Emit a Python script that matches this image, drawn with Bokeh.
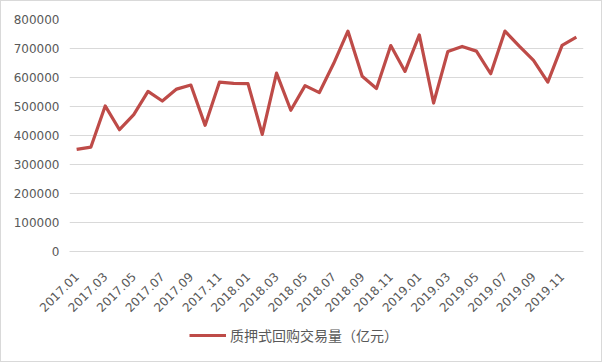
import math
from bokeh.plotting import figure
from bokeh.layouts import column
from bokeh.models import FixedTicker, Range1d, Legend, LegendItem, NumeralTickFormatter, ColumnDataSource
from bokeh.embed import file_html
from bokeh.resources import INLINE

months = [f"{y}.{m:02d}" for y in (2017, 2018, 2019) for m in range(1, 13)]
volume = [352000, 360000, 502000, 420000, 472000, 552000, 519000, 560000, 574000, 435000,
          584000, 580000, 579000, 404000, 615000, 487000, 572000, 548000, 648000, 760000,
          604000, 562000, 710000, 621000, 747000, 512000, 690000, 707000, 691000, 613000,
          760000, 708000, 659000, 584000, 711000, 739000]
y_ticks = [0, 100000, 200000, 300000, 400000, 500000, 600000, 700000, 800000]
series_name = "质押式回购交易量（亿元）"

LINE_COLOR = "#BE4B48"
LINE_WIDTH = 3.2

xs = list(range(len(months)))
src = ColumnDataSource(dict(x=xs, y=volume))

p = figure(width=600, height=320, output_backend="svg", toolbar_location=None,
           x_range=Range1d(-0.5, len(months) - 0.5), y_range=Range1d(0, 800000),
           min_border_left=68, min_border_right=18, min_border_top=18, min_border_bottom=70)
p.background_fill_color = "white"
p.border_fill_color = "white"
p.outline_line_color = None

r = p.line("x", "y", source=src, line_color=LINE_COLOR, line_width=LINE_WIDTH, line_join="round")

# y axis
p.yaxis.ticker = FixedTicker(ticks=y_ticks)
p.yaxis.formatter = NumeralTickFormatter(format="0")
p.yaxis.axis_line_color = None
p.yaxis.major_tick_line_color = None
p.yaxis.minor_tick_line_color = None
p.yaxis.major_tick_out = 0
p.yaxis.major_label_standoff = 10
p.yaxis.major_label_text_font = "DejaVu Sans"
p.yaxis.major_label_text_font_size = "12px"
p.yaxis.major_label_text_color = "#595959"
p.ygrid.ticker = FixedTicker(ticks=y_ticks)
p.ygrid.grid_line_color = "#d9d9d9"
p.ygrid.grid_line_width = 1

# x axis
p.xgrid.grid_line_color = None
p.xaxis.ticker = FixedTicker(ticks=xs[::2])
p.xaxis.major_label_overrides = {i: months[i] for i in xs}
p.xaxis.axis_line_color = "#d9d9d9"
p.xaxis.major_tick_line_color = None
p.xaxis.minor_tick_line_color = None
p.xaxis.major_tick_out = 0
p.xaxis.major_label_orientation = math.pi / 4
p.xaxis.major_label_standoff = 23
p.xaxis.major_label_text_font = "DejaVu Sans"
p.xaxis.major_label_text_font_size = "12px"
p.xaxis.major_label_text_color = "#595959"

# legend strip below the chart
lg = figure(width=600, height=40, output_backend="svg", toolbar_location=None,
            x_range=Range1d(0, 1), y_range=Range1d(0, 1),
            x_axis_location=None, y_axis_location=None,
            min_border_left=0, min_border_right=0, min_border_top=0, min_border_bottom=0)
lg.grid.visible = False
lg.outline_line_color = None
lg.background_fill_color = "white"
lg.border_fill_color = "white"
# legend proxy: same series, lies outside this strip's visible range
lr = lg.line(x=xs, y=volume, line_color=LINE_COLOR, line_width=LINE_WIDTH)
legend = Legend(items=[LegendItem(label=series_name, renderers=[lr])],
                location=(120, 16), orientation="horizontal",
                glyph_width=37, glyph_height=16, label_standoff=4,
                padding=0, margin=0, spacing=0,
                border_line_color=None, background_fill_alpha=0,
                label_text_font="Noto Sans CJK SC", label_text_font_size="14px",
                label_text_color="#595959")
lg.add_layout(legend, "center")

page = column(p, lg, spacing=0, styles={"border": "1px solid #d9d9d9"})

open("out.html", "w").write(file_html(page, INLINE))
